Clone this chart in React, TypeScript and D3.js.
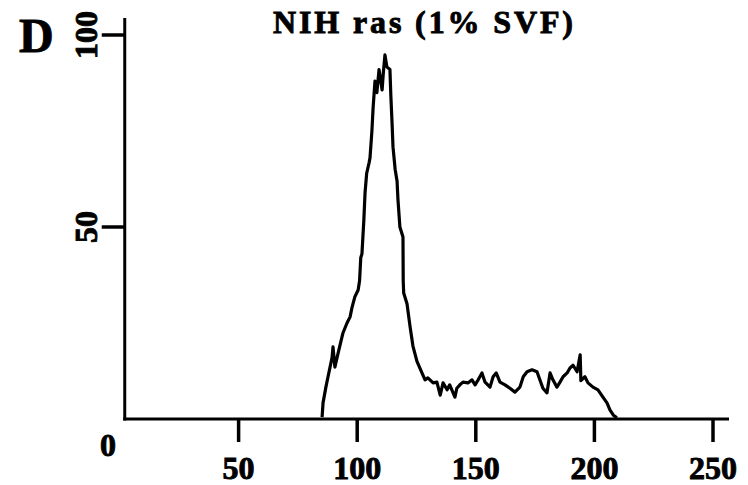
import React from "react";
import * as d3 from "d3";

// Histogram trace (channel vs. count)
const channel: number[] = [
  85.2, 85.6, 86.8, 87.7, 89.4, 89.8, 90.6, 91.9, 94, 95.7, 97, 97.8, 99, 100.4, 101,
  101.5, 102, 102.4, 102.8, 103.3, 104, 105, 105.4, 106.2, 106.7, 107.5, 108.3, 109.2,
  110.5, 111, 111.7, 112.5, 113.8, 114.2, 114.7, 115.1, 116, 116.8, 117.2, 118, 119.3,
  119.4, 119.6, 121, 122.3, 123.5, 125.2, 127.3, 128.6, 129.8, 132, 133.6, 135, 136.2,
  137.9, 139, 141.2, 142, 143.3, 144.6, 146.7, 148.4, 149.7, 151, 152.6, 153.9, 156,
  157.3, 158.6, 160.2, 162.3, 164.4, 166.5, 168.6, 170, 171.6, 173.7, 175.8, 177, 178.3,
  180, 181.3, 182.5, 184.2, 185.5, 186.8, 188.5, 189.7, 191, 192.7, 194, 194.3, 196,
  197.3, 199.4, 201.5, 203.6, 205.3, 206.6, 208, 209.5,
];
const counts: number[] = [
  0.5, 4.2, 8.3, 11, 16, 18.8, 13.5, 17, 22.4, 25, 26.6, 29, 31.8, 33.6, 36,
  42, 43, 47.4, 51.8, 58.8, 64, 66.7, 68, 75, 81, 88, 85, 91,
  85.7, 90, 94.8, 91.7, 91, 84, 77, 70.8, 65, 62, 57, 50, 47.4,
  36, 32.8, 30, 24, 19, 15, 12, 10.2, 10.7, 9.4, 9.6, 6.2, 9.4,
  7.6, 8.9, 5.7, 8, 8.9, 9.6, 9.4, 10.2, 8.9, 10.2, 12, 9.6, 8.3,
  11, 12, 9.6, 8.9, 8, 7, 8.3, 11, 12.3, 12.8, 12.3, 10.2, 8,
  6.8, 12, 10.2, 8.3, 9.6, 11, 12, 13.3, 14, 12.3, 16.7, 10, 11,
  9.4, 8.3, 7.6, 5.7, 4.2, 2.3, 1, 0.3,
];
const xTicks: number[] = [50, 100, 150, 200, 250];
const yTicks: number[] = [50, 100];
const title = "NIH ras (1% SVF)";
const panelLetter = "D";

export default function App() {
  const W = 748;
  const H = 485;
  const x = d3.scaleLinear().domain([0, 250]).range([120, 713]);
  const y = d3.scaleLinear().domain([0, 100]).range([419, 35]);
  const axisX = x(2);
  const baseY = y(0);
  const pts: [number, number][] = channel.map((c, i) => [c, counts[i]]);
  const line = d3
    .line<[number, number]>()
    .x((d) => x(d[0]))
    .y((d) => y(d[1]));
  const font = "'Liberation Serif', 'Times New Roman', serif";
  const ink = { fill: "#000", stroke: "#000", strokeWidth: 0.9 };

  return (
    <svg
      width={W}
      height={H}
      style={{ position: "absolute", left: 0, top: 0, background: "#fff" }}
      fontFamily={font}
      fontWeight="bold"
    >
      <rect x={0} y={0} width={W} height={H} fill="#fff" />
      {/* panel letter */}
      <text x={19} y={52} fontSize={48} {...ink}>
        {panelLetter}
      </text>
      {/* title */}
      <text x={423} y={33} fontSize={32} textAnchor="middle" textLength={300} lengthAdjust="spacing" {...ink}>
        {title}
      </text>
      {/* axes */}
      <line x1={axisX} y1={18} x2={axisX} y2={baseY + 1.5} stroke="#000" strokeWidth={3} />
      <line x1={axisX - 1.5} y1={baseY} x2={729} y2={baseY} stroke="#000" strokeWidth={3} />
      {xTicks.map((t) => (
        <g key={"xt" + t}>
          <line x1={x(t)} y1={baseY} x2={x(t)} y2={baseY + 23} stroke="#000" strokeWidth={3.5} />
          <text x={x(t)} y={479} fontSize={32} textAnchor="middle" {...ink}>
            {t}
          </text>
        </g>
      ))}
      <text x={108} y={456} fontSize={32} textAnchor="middle" {...ink}>
        0
      </text>
      {yTicks.map((t) => (
        <g key={"yt" + t}>
          <line x1={axisX} y1={y(t)} x2={axisX - 23} y2={y(t)} stroke="#000" strokeWidth={3.5} />
          <text
            transform={`translate(97,${y(t)}) rotate(-90)`}
            fontSize={32}
            textAnchor="middle"
            {...ink}
          >
            {t}
          </text>
        </g>
      ))}
      {/* histogram trace */}
      <path
        d={line(pts) || ""}
        fill="none"
        stroke="#000"
        strokeWidth={3.2}
        strokeLinejoin="round"
      />
    </svg>
  );
}
